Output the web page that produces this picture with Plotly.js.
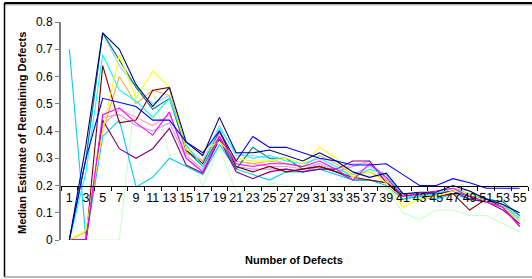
<!DOCTYPE html>
<html>
<head>
<meta charset="utf-8">
<script src="https://cdn.plot.ly/plotly-3.0.1.min.js"></script>
<style>html,body{margin:0;padding:0;background:#fff;}#chart{width:532px;height:279px;}</style>
</head>
<body>
<div id="chart"></div>
<script>
const categories = ["1","3","5","7","9","11","13","15","17","19","21","23","25","27","29","31","33","35","37","39","41","43","45","47","49","51","53","55"];

const navy      = [0,0.35,0.76,0.70,0.57,0.49,0.56,0.36,0.31,0.45,0.32,0.32,0.33,0.31,0.29,0.32,0.29,0.25,0.23,0.245,0.17,0.175,0.175,0.20,0.18,0.15,0.13,0.10];
const blue      = [0,0.30,0.52,0.505,0.49,0.44,0.44,0.36,0.32,0.40,0.29,0.38,0.34,0.34,0.32,0.30,0.29,0.275,0.275,0.28,0.24,0.20,0.20,0.225,0.21,0.19,0.19,0.19];
const cyan      = [0,0.25,0.68,0.55,0.51,0.45,0.52,0.35,0.27,0.41,0.32,0.30,0.31,0.29,0.28,0.30,0.27,0.23,0.26,0.24,0.16,0.16,0.17,0.19,0.17,0.15,0.13,0.08];
const skyBlue   = [0.70,0,0.38,0.44,0.195,0.23,0.30,0.27,0.24,0.35,0.26,0.24,0.22,0.25,0.25,0.26,0.24,0.22,0.22,0.20,0.15,0.16,0.15,0.17,0.15,0.14,0.12,0.07];
const yellow    = [0,0.035,0.40,0.68,0.52,0.62,0.56,0.33,0.33,0.36,0.30,0.29,0.29,0.30,0.28,0.34,0.30,0.23,0.25,0.21,0.12,0.15,0.16,0.18,0.17,0.14,0.12,0.07];
const magenta   = [0,0,0.46,0.485,0.43,0.385,0.47,0.30,0.25,0.38,0.28,0.27,0.28,0.28,0.27,0.29,0.26,0.22,0.28,0.23,0.16,0.17,0.18,0.19,0.16,0.14,0.12,0.05];
const darkRed   = [0,0,0.64,0.43,0.44,0.55,0.56,0.33,0.28,0.40,0.27,0.25,0.27,0.25,0.26,0.27,0.25,0.23,0.22,0.21,0.16,0.16,0.16,0.17,0.11,0.15,0.12,0.05];
const purple    = [0,0,0.44,0.335,0.30,0.335,0.41,0.275,0.245,0.37,0.25,0.225,0.25,0.26,0.25,0.26,0.26,0.29,0.29,0.21,0.16,0.17,0.17,0.18,0.15,0.14,0.11,0.06];
const teal      = [0,0.30,0.76,0.66,0.56,0.48,0.52,0.33,0.27,0.38,0.26,0.34,0.30,0.30,0.26,0.27,0.25,0.22,0.22,0.21,0.17,0.17,0.17,0.18,0.16,0.15,0.14,0.09];
const lightGreen= [0,0,0,0,0.555,0.55,0.31,0.33,0.20,0.34,0.175,0.18,0.21,0.20,0.19,0.20,0.155,0.22,0.20,0.19,0.10,0.075,0.11,0.11,0.09,0.09,0.06,0.03];
const paleBlue  = [0,0.30,0.76,0.64,0.56,0.50,0.53,0.34,0.29,0.42,0.31,0.31,0.30,0.28,0.27,0.28,0.26,0.24,0.27,0.24,0.17,0.17,0.17,0.18,0.16,0.15,0.13,0.09];
const rose      = [0,0,0.42,0.48,0.45,0.42,0.46,0.31,0.26,0.39,0.29,0.28,0.27,0.27,0.26,0.28,0.25,0.28,0.28,0.23,0.16,0.16,0.17,0.18,0.16,0.14,0.12,0.06];
const lavender  = [0,0,0.45,0.46,0.42,0.40,0.43,0.30,0.25,0.37,0.27,0.26,0.26,0.26,0.25,0.27,0.25,0.27,0.29,0.22,0.16,0.17,0.17,0.18,0.16,0.15,0.12,0.06];
const tan       = [0,0.03,0.40,0.60,0.50,0.55,0.53,0.32,0.29,0.37,0.29,0.28,0.29,0.28,0.27,0.31,0.28,0.24,0.25,0.22,0.15,0.16,0.17,0.19,0.18,0.15,0.13,0.07];

const yTicks = [0,0.1,0.2,0.3,0.4,0.5,0.6,0.7,0.8];
const yTickText = ["0","0.1","0.2","0.3","0.4","0.5","0.6","0.7","0.8"];

const series = [
  [lightGreen, "#C8FFC8"],
  [paleBlue, "#99CCFF"],
  [rose, "#FF99CC"],
  [lavender, "#CC99FF"],
  [tan, "#FFAA44"],
  [skyBlue, "#00CCFF"],
  [teal, "#008080"],
  [purple, "#800080"],
  [darkRed, "#800000"],
  [cyan, "#00FFFF"],
  [yellow, "#FFFF00"],
  [magenta, "#FF00FF"],
  [blue, "#0000FF"],
  [navy, "#000080"]
];

const traces = series.map(([vals, color]) => ({
  x: categories, y: vals, type: "scatter", mode: "lines",
  line: {color: color, width: 1.1}, hoverinfo: "skip", showlegend: false
}));

const font = "Arial, 'Liberation Sans', sans-serif";

const layout = {
  width: 532, height: 279,
  margin: {l: 61, r: 4, t: 22, b: 39, pad: 0},
  paper_bgcolor: "#fff", plot_bgcolor: "#fff",
  showlegend: false,
  xaxis: {
    type: "category", anchor: "free", position: 0.25,
    range: [-0.5, 27.5], tickson: "boundaries", tickangle: 0,
    showline: true, linecolor: "#000", linewidth: 1,
    ticks: "outside", ticklen: 4, tickcolor: "#000", tickwidth: 1,
    showgrid: false, zeroline: false,
    tickfont: {family: font, size: 12.5, color: "#000"}
  },
  yaxis: {
    range: [0, 0.8], tickvals: yTicks, ticktext: yTickText,
    showline: true, linecolor: "#808080", linewidth: 2,
    ticks: "outside", ticklen: 4, tickcolor: "#808080", tickwidth: 1,
    showgrid: false, zeroline: false,
    tickfont: {family: font, size: 12, color: "#000"}
  },
  annotations: [
    {text: "<b>Number of Defects</b>", xref: "paper", yref: "paper",
     x: (294 - 61) / 467, y: (240 - 260) / 218, xanchor: "center", yanchor: "middle",
     showarrow: false, font: {family: font, size: 11, color: "#000"}},
    {text: "<b>Median Estimate of Remaining Defects</b>", xref: "paper", yref: "paper",
     x: (22 - 61) / 467, y: (240 - 133) / 218, xanchor: "center", yanchor: "middle",
     textangle: -90, showarrow: false, font: {family: font, size: 11, color: "#000"}}
  ],
  shapes: [
    {type: "line", xref: "paper", yref: "paper", x0: (4.5 - 61) / 467, x1: (540 - 61) / 467,
     y0: (240 - 3) / 218, y1: (240 - 3) / 218, line: {color: "#000", width: 2}},
    {type: "line", xref: "paper", yref: "paper", x0: (4.5 - 61) / 467, x1: (540 - 61) / 467,
     y0: (240 - 4.8) / 218, y1: (240 - 4.8) / 218, line: {color: "#909090", width: 1}},
    {type: "line", xref: "paper", yref: "paper", x0: (4.5 - 61) / 467, x1: (4.5 - 61) / 467,
     y0: (240 - 3) / 218, y1: (240 - 277) / 218, line: {color: "#000", width: 1.5}},
    {type: "line", xref: "paper", yref: "paper", x0: (4.5 - 61) / 467, x1: (540 - 61) / 467,
     y0: (240 - 277) / 218, y1: (240 - 277) / 218, line: {color: "#a0a0a0", width: 1.5}}
  ]
};

Plotly.newPlot("chart", traces, layout, {staticPlot: true, displayModeBar: false});
</script>
</body>
</html>
